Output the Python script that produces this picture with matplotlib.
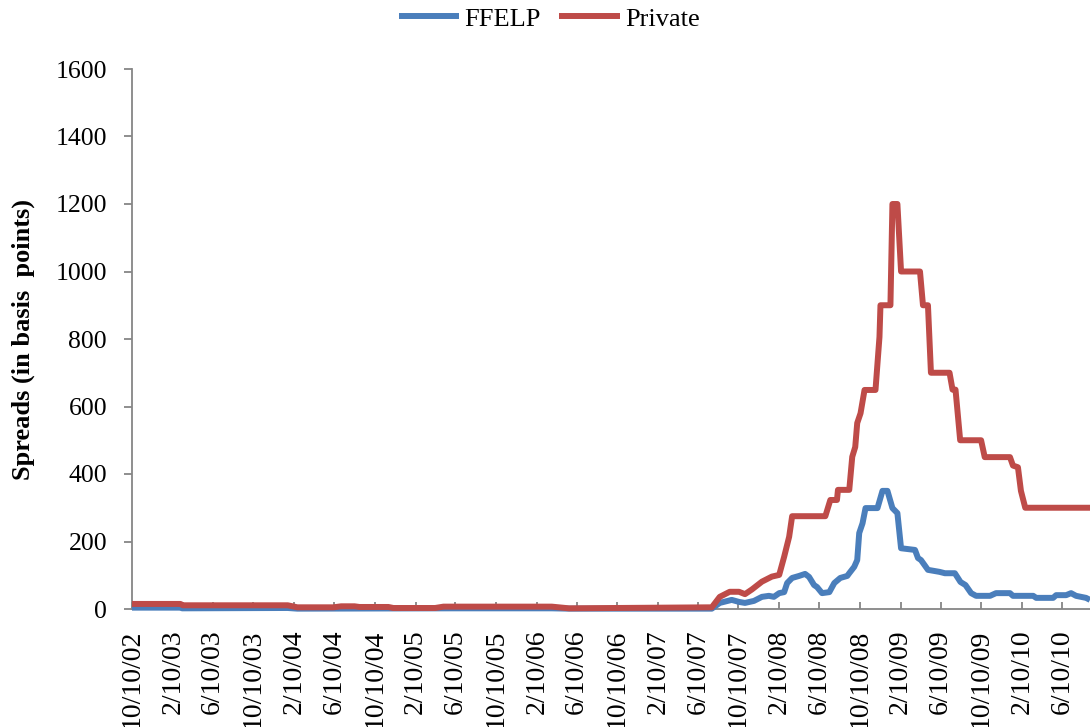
import matplotlib
matplotlib.use("Agg")
import matplotlib.pyplot as plt
import pandas as pd

plt.rcParams["font.family"] = ["Liberation Serif", "DejaVu Serif"]

# Axis labels (every four months)
tick_labels = [
    "10/10/02", "2/10/03", "6/10/03", "10/10/03", "2/10/04", "6/10/04",
    "10/10/04", "2/10/05", "6/10/05", "10/10/05", "2/10/06", "6/10/06",
    "10/10/06", "2/10/07", "6/10/07", "10/10/07", "2/10/08", "6/10/08",
    "10/10/08", "2/10/09", "6/10/09", "10/10/09", "2/10/10", "6/10/10",
]

# FFELP spreads (basis points)
ffelp_dates = [
    "2002-10-10", "2003-03-05", "2003-03-10", "2004-01-22", "2004-02-20",
    "2005-06-01", "2006-03-27", "2006-05-18", "2007-07-22", "2007-08-15",
    "2007-08-27", "2007-09-20", "2007-10-12", "2007-10-30", "2007-11-26",
    "2007-12-20", "2008-01-10", "2008-01-25", "2008-02-10", "2008-02-25",
    "2008-03-05", "2008-03-20", "2008-04-10", "2008-04-28", "2008-05-10",
    "2008-05-25", "2008-06-03", "2008-06-18", "2008-07-10", "2008-07-25",
    "2008-08-12", "2008-09-02", "2008-09-08", "2008-09-23", "2008-10-02",
    "2008-10-08", "2008-10-18", "2008-10-27", "2008-12-02", "2008-12-17",
    "2009-01-01", "2009-01-16", "2009-01-31", "2009-02-11", "2009-03-25",
    "2009-04-03", "2009-04-12", "2009-05-03", "2009-06-07", "2009-06-23",
    "2009-07-23", "2009-08-09", "2009-08-24", "2009-09-10", "2009-09-25",
    "2009-11-06", "2009-11-24", "2010-01-05", "2010-01-14", "2010-03-16",
    "2010-03-25", "2010-05-15", "2010-05-24", "2010-06-23", "2010-07-08",
    "2010-07-23", "2010-08-22", "2010-09-03",
]
ffelp_values = [
    4, 4, 2, 3, 1,
    2, 2, 1, 1, 18,
    21, 27, 21, 18, 24,
    36, 39, 36, 47, 50,
    77, 92, 98, 104, 95,
    71, 65, 47, 50, 77,
    92, 98, 106, 125, 145,
    225, 254, 299, 299, 350,
    350, 299, 284, 180, 175,
    151, 145, 116, 110, 106,
    106, 80, 71, 47, 39,
    39, 47, 47, 39, 39,
    33, 33, 41, 41, 47,
    39, 33, 27,
]

# Private spreads (basis points)
private_dates = [
    "2002-10-10", "2003-03-05", "2003-03-12", "2004-01-22", "2004-02-20",
    "2004-06-08", "2004-07-01", "2004-08-10", "2004-08-25", "2004-11-20",
    "2004-12-05", "2005-04-10", "2005-05-05", "2006-03-27", "2006-05-18",
    "2007-07-22", "2007-08-15", "2007-09-14", "2007-10-12", "2007-10-30",
    "2007-11-20", "2007-12-20", "2008-01-19", "2008-02-10", "2008-02-25",
    "2008-03-11", "2008-03-20", "2008-06-28", "2008-07-13", "2008-08-02",
    "2008-08-05", "2008-09-08", "2008-09-17", "2008-09-26", "2008-10-02",
    "2008-10-12", "2008-10-24", "2008-11-26", "2008-12-08", "2008-12-11",
    "2009-01-10", "2009-01-16", "2009-01-31", "2009-02-11", "2009-04-09",
    "2009-04-18", "2009-05-03", "2009-05-12", "2009-07-07", "2009-07-16",
    "2009-07-25", "2009-08-08", "2009-10-10", "2009-10-21", "2010-01-05",
    "2010-01-14", "2010-01-29", "2010-02-07", "2010-02-20", "2010-09-03",
]
private_values = [
    15, 15, 11, 11, 5,
    5, 8, 8, 6, 6,
    3, 3, 7, 7, 2,
    5, 36, 51, 51, 44,
    58, 81, 96, 101, 155,
    214, 275, 275, 323, 323,
    353, 353, 451, 480, 551,
    580, 649, 649, 806, 900,
    900, 1200, 1200, 1000, 1000,
    900, 900, 700, 700, 650,
    650, 500, 500, 450, 450,
    425, 420, 350, 300, 300,
]

fig = plt.figure(figsize=(10.9, 7.27), dpi=100)
ax = fig.add_axes([132 / 1090, 118 / 727, 958 / 1090, 540 / 727])

ax.plot(pd.to_datetime(ffelp_dates), ffelp_values, color="#4A7EBB", lw=4.3,
        solid_joinstyle="round", solid_capstyle="butt", label="FFELP",
        zorder=3, clip_on=False)
ax.plot(pd.to_datetime(private_dates), private_values, color="#BE4B48", lw=4.3,
        solid_joinstyle="round", solid_capstyle="butt", label="Private",
        zorder=4, clip_on=False)

ax.set_xlim(pd.Timestamp("2002-10-10"), pd.Timestamp("2010-09-03"))
ax.set_ylim(0, 1600)
ax.set_yticks(range(0, 1601, 200))

tick_dates = pd.to_datetime(tick_labels, format="%m/%d/%y")
ax.set_xticks(tick_dates)
ax.set_xticklabels(tick_labels, rotation=90, fontsize=20)

for side in ("top", "right"):
    ax.spines[side].set_visible(False)
for side in ("left", "bottom"):
    ax.spines[side].set_color("#868686")
    ax.spines[side].set_linewidth(1.3)

ax.tick_params(axis="x", direction="in", length=5, width=1.3,
               color="#868686", pad=15)
ax.tick_params(axis="y", direction="out", length=6, width=1.3,
               color="#868686", pad=12, labelsize=18.5)

ax.set_ylabel("Spreads (in basis  points)", fontsize=19, fontweight="bold",
              labelpad=15)

fig.legend(loc="upper center", bbox_to_anchor=(0.504, 1.023), ncol=2,
           frameon=False, fontsize=19, handlelength=2.3, handletextpad=0.2,
           columnspacing=0.7)

fig.savefig("out.png", dpi=100)
